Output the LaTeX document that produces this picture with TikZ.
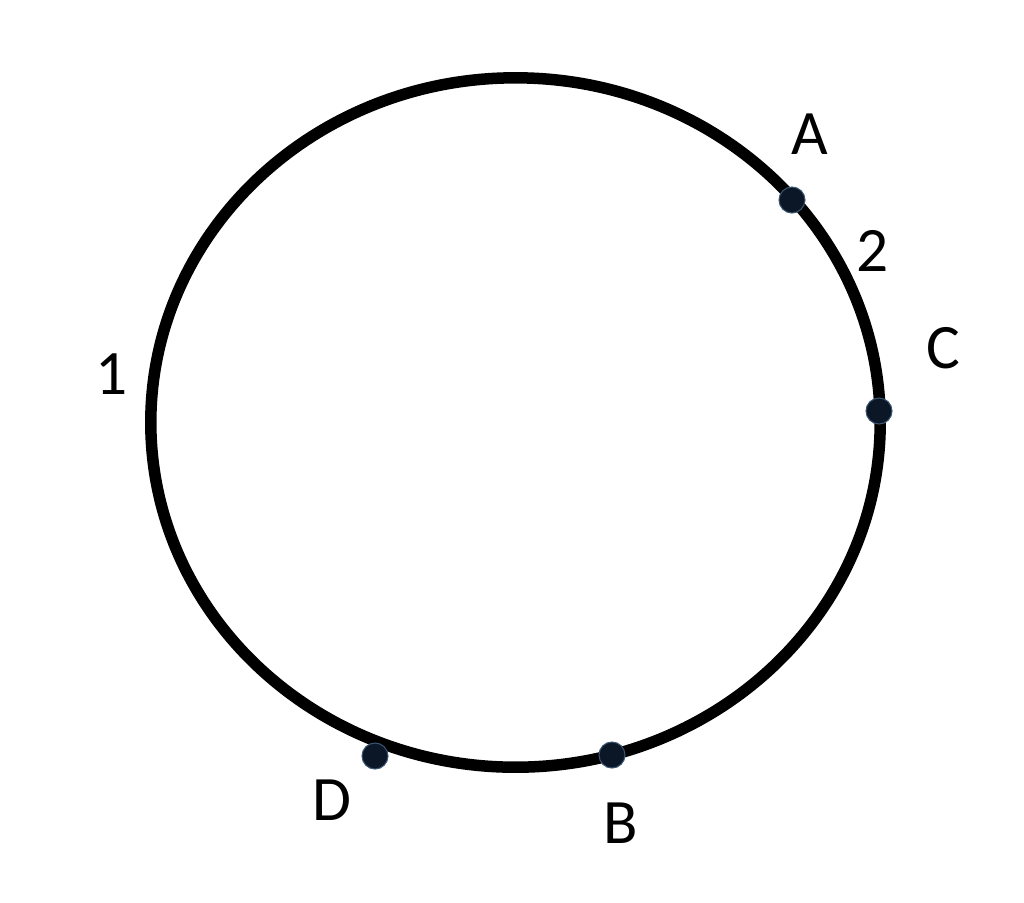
\documentclass[tikz,border=0pt]{standalone}
\usepackage{fontspec}
\setmainfont{Carlito}
\definecolor{dotcol}{HTML}{0B1726}
\definecolor{dotrim}{HTML}{3A5570}
\begin{document}
\begin{tikzpicture}[x=0.01cm,y=-0.01cm,
  ring/.style={line width=0.115cm,draw=black},
  pt/.style={circle,fill=dotcol,draw=dotrim,line width=0.3pt,minimum size=0.26cm,inner sep=0pt},
  lbl/.style={font=\fontsize{18}{20}\selectfont,inner sep=0pt}]
\useasboundingbox (0,0) rectangle (1024,902);
\draw[ring] (515.5,422.5) ellipse [x radius=364.5cm/100, y radius=344.5cm/100];
\node[pt] (A) at (792,200) {};
\node[pt] (C) at (879,411) {};
\node[pt] (B) at (612,755) {};
\node[pt] (D) at (375,756) {};
\node[lbl] (lA) at (810,134) {A};
\node[lbl] (l2) at (873,251) {2};
\node[lbl] (lC) at (943,348) {C};
\node[lbl] (l1) at (112,374) {1};
\node[lbl] (lD) at (332,800) {D};
\node[lbl] (lB) at (621,823) {B};
\end{tikzpicture}
\end{document}
